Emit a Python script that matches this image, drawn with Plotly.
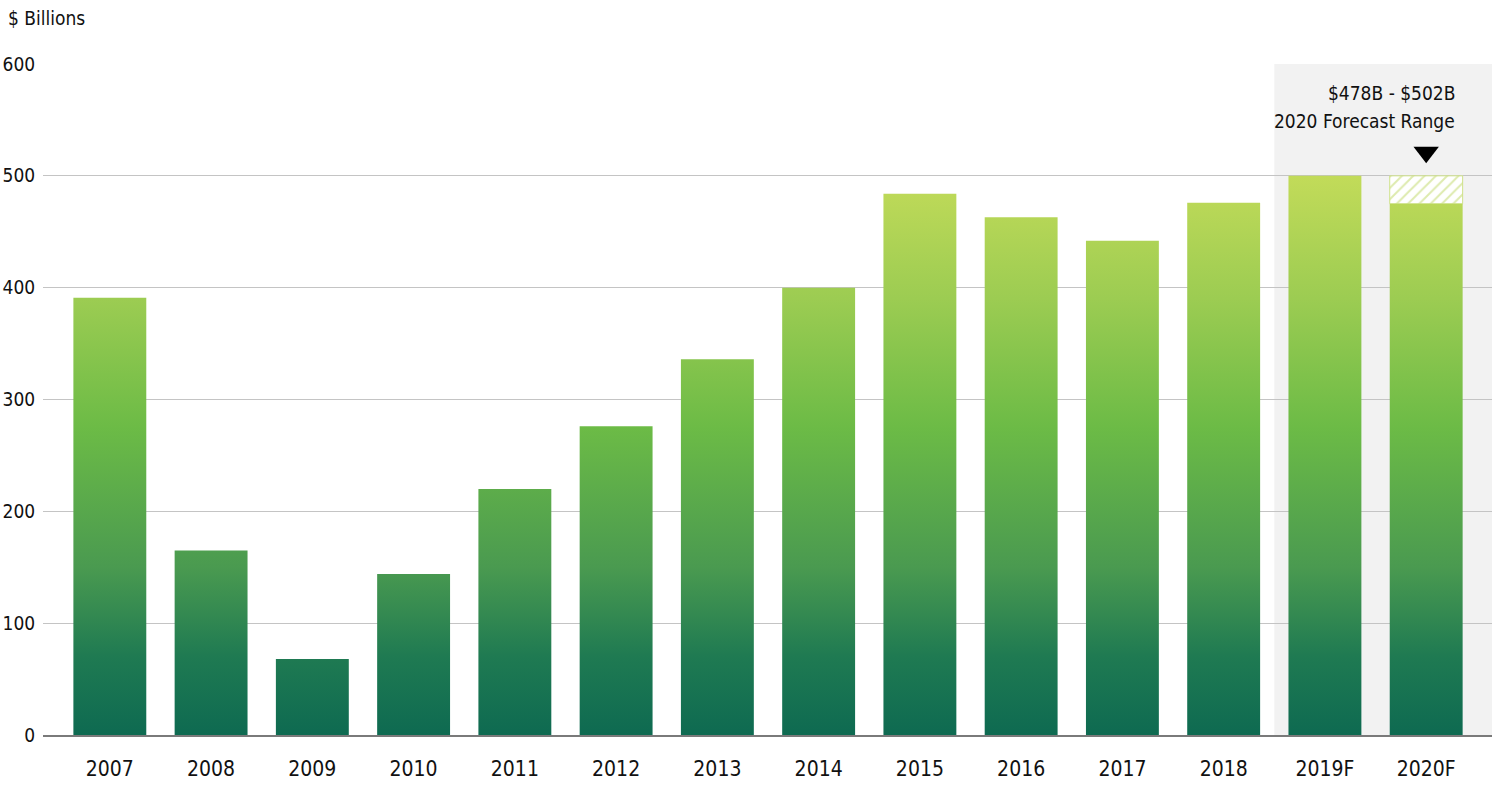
import plotly.graph_objects as go

categories = ["2007", "2008", "2009", "2010", "2011", "2012", "2013",
              "2014", "2015", "2016", "2017", "2018", "2019F", "2020F"]
values = [391, 165, 68, 144, 220, 276, 336, 400, 484, 463, 442, 476, 500, 475]
forecast_high = 500          # top of hatched 2020F range
y_ticks = [0, 100, 200, 300, 400, 500, 600]
forecast_text = ["$478B - $502B", "2020 Forecast Range"]

FONT = "DejaVu Sans Condensed, Liberation Sans Narrow, sans-serif"
BAR_W = 0.72
gradient = [
    [0.00, "#0e6a51"],
    [0.14, "#1f7a52"],
    [0.30, "#4a9a50"],
    [0.55, "#6cbb46"],
    [0.78, "#9ccc52"],
    [1.00, "#c2db59"],
]

fig = go.Figure()

for i, (cat, v) in enumerate(zip(categories, values)):
    x0, x1 = i - BAR_W / 2, i + BAR_W / 2
    fig.add_trace(go.Scatter(
        x=[x0, x1, x1, x0, x0],
        y=[0, 0, v, v, 0],
        mode="lines",
        line=dict(width=0),
        fill="toself",
        fillgradient=dict(type="vertical", colorscale=gradient, start=0, stop=500),
        hoverinfo="skip",
        name=cat,
        showlegend=False,
    ))

# hatched forecast range on 2020F
last = len(categories) - 1
fig.add_trace(go.Bar(
    x=[last],
    y=[forecast_high - values[last]],
    base=[values[last]],
    width=BAR_W,
    marker=dict(
        color="white",
        line=dict(color="#cfe28a", width=1),
        pattern=dict(shape="/", fgcolor="#bcd65e", bgcolor="white", size=8, solidity=0.25),
    ),
    hoverinfo="skip",
    showlegend=False,
))

# arrow marker
fig.add_trace(go.Scatter(
    x=[last], y=[521], mode="markers",
    marker=dict(symbol="triangle-down", size=22, color="black"),
    hoverinfo="skip", showlegend=False,
))

fig.add_shape(type="rect", xref="x", yref="y", x0=11.5, x1=13.65, y0=0, y1=600,
              fillcolor="#f2f2f2", line=dict(width=0), layer="below")

fig.add_annotation(xref="x", yref="y", x=13.30, y=574, text=forecast_text[0],
                   showarrow=False, xanchor="right", yanchor="middle",
                   font=dict(family=FONT, size=19, color="#111"))
fig.add_annotation(xref="x", yref="y", x=13.30, y=549, text=forecast_text[1],
                   showarrow=False, xanchor="right", yanchor="middle",
                   font=dict(family=FONT, size=19, color="#111"))
fig.add_annotation(xref="paper", yref="paper", x=-0.0255, y=1.068, text="$ Billions",
                   showarrow=False, xanchor="left", yanchor="middle",
                   font=dict(family=FONT, size=19, color="#111"))

fig.update_layout(
    width=1500, height=792,
    margin=dict(l=43, r=8, t=64, b=57),
    paper_bgcolor="white", plot_bgcolor="white",
    font=dict(family=FONT, size=21, color="#111"),
    barmode="overlay",
)
fig.update_xaxes(
    range=[-0.66, 13.65], automargin=False,
    tickvals=list(range(len(categories))), ticktext=categories,
    showgrid=False, zeroline=False,
    showline=True, linecolor="#7a7a7a", linewidth=1.5,
    ticks="outside", ticklen=14, tickcolor="rgba(0,0,0,0)",
    tickfont=dict(family=FONT, size=21),
)
fig.update_yaxes(
    range=[0, 600], tickvals=y_ticks, automargin=False,
    showgrid=True, gridcolor="#c4c4c4", gridwidth=1,
    zeroline=False, showline=False,
    ticks="outside", ticklen=3, tickcolor="rgba(0,0,0,0)",
    tickfont=dict(family=FONT, size=19),
)

fig.write_html("out.html",
               config={"displayModeBar": False},
               post_script="document.body.style.margin='0';document.body.style.padding='0';")
